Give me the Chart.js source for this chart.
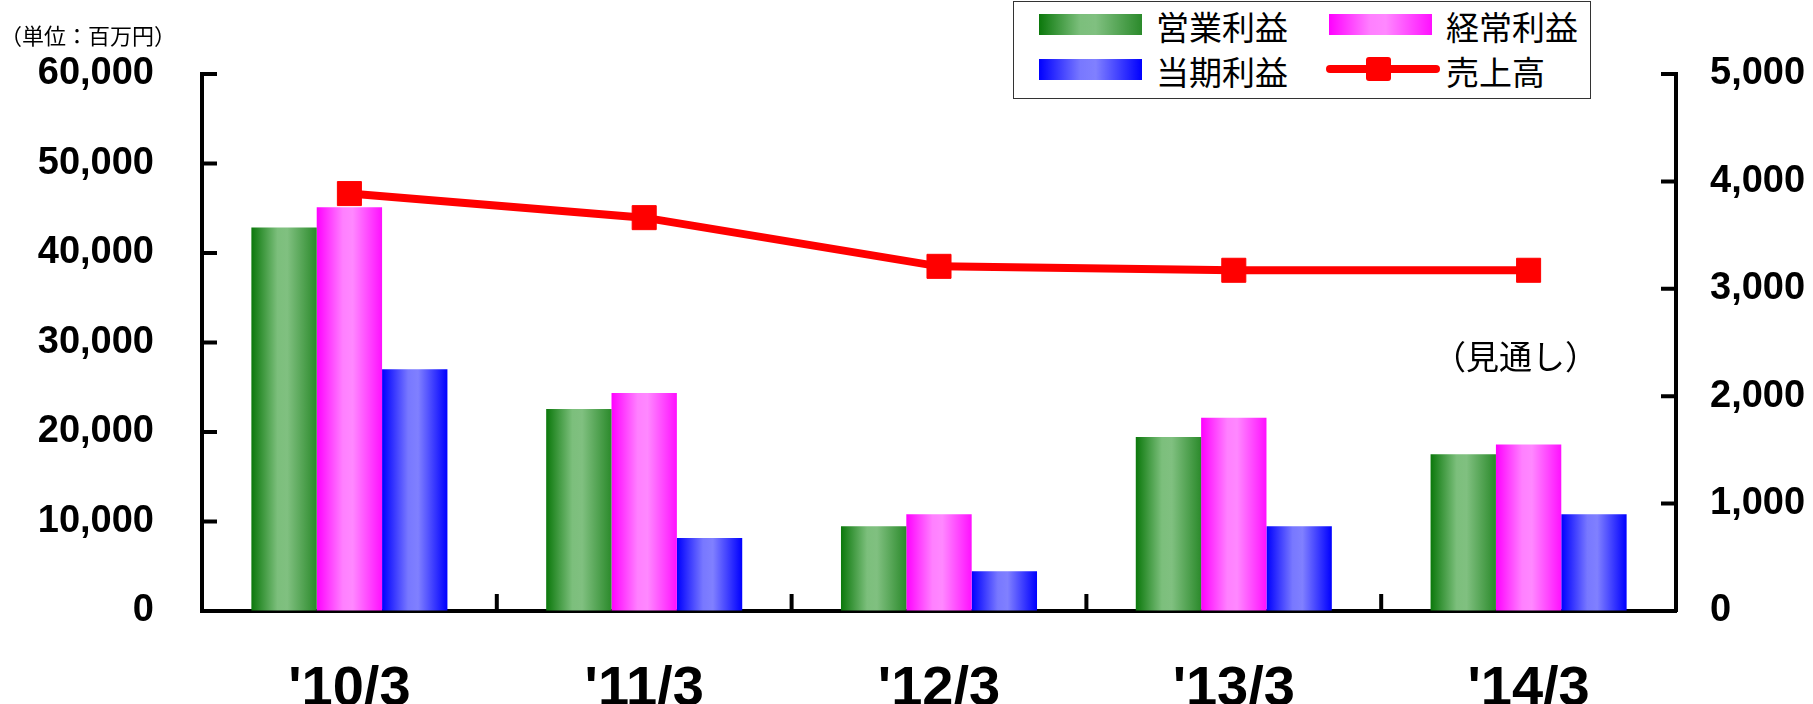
<!DOCTYPE html>
<html lang="ja">
<head>
<meta charset="utf-8">
<title>売上高・利益推移</title>
<script src="https://cdn.jsdelivr.net/npm/chart.js@4.4.1/dist/chart.umd.min.js"></script>
<style>
  html, body { margin: 0; padding: 0; background: #fff; overflow: hidden; }
  #wrap { position: relative; width: 1813px; height: 704px; }
  #chart { position: absolute; left: 0; top: 0; }
  .jp { position: absolute; font-family: "Noto Sans CJK JP", sans-serif; color: #000; line-height: 1; white-space: nowrap; }
  #unit { left: 0px; top: 23px; font-size: 22px; }
  #forecast { left: 1433px; top: 339px; font-size: 33px; }
  #legend { position: absolute; left: 1013px; top: 1px; width: 576px; height: 96px; border: 1px solid #333; background: #fff; }
  .sw { position: absolute; width: 103px; height: 21px; }
  .lbl { font-size: 33px; }
</style>
</head>
<body>
<div id="wrap">
  <canvas id="chart" width="1813" height="704"></canvas>
  <div id="unit" class="jp">（単位：百万円）</div>
  <div id="forecast" class="jp">（見通し）</div>
  <div id="legend"></div>
</div>
<script>
// data
const categories = ["'10/3", "'11/3", "'12/3", "'13/3", "'14/3"];
const operatingProfit = [3570, 1880, 790, 1620, 1460];   // 営業利益 (right axis)
const ordinaryProfit = [3760, 2030, 900, 1800, 1550];    // 経常利益 (right axis)
const netProfit = [2250, 680, 370, 790, 900];            // 当期利益 (right axis)
const sales = [46640, 43950, 38510, 38070, 38070];       // 売上高 (left axis)

const salesMax = 60000, salesStep = 10000;
const profitMax = 5000, profitStep = 1000;

const CAT_PCT = 0.665;
const TICK_FONT = { family: "'Liberation Sans', Arial, sans-serif", size: 38, weight: "bold" };

const palette = {
  green: ["#0b780b", "#7cbf7c", "#80c080", "#2b8a2b"],
  pink: ["#ff00ff", "#ff80ff", "#ff88ff", "#ff10ff"],
  blue: ["#0000ff", "#7878ff", "#8080ff", "#0000ff"],
};

function barGradient(ctx, cols) {
  const chart = ctx.chart;
  const x = chart.scales.x;
  if (!x || ctx.dataIndex === undefined || !chart.chartArea) return cols[0];
  const step = (chart.chartArea.right - chart.chartArea.left) / categories.length;
  const w = step * CAT_PCT / 3;
  const left = x.getPixelForValue(ctx.dataIndex) - 1.5 * w + ctx.datasetIndex * w;
  const g = chart.ctx.createLinearGradient(left, 0, left + w, 0);
  g.addColorStop(0, cols[0]);
  g.addColorStop(0.4, cols[1]);
  g.addColorStop(0.55, cols[2]);
  g.addColorStop(1, cols[3]);
  return g;
}

function css(cols) {
  return `linear-gradient(to right, ${cols[0]} 0%, ${cols[1]} 40%, ${cols[2]} 55%, ${cols[3]} 100%)`;
}

// legend (2 x 2), positions relative to the box
const legend = document.getElementById("legend");
legend.innerHTML = `
  <div class="sw" style="left:25px;top:12px;background:${css(palette.green)}"></div>
  <div class="jp lbl" style="left:142px;top:8px">営業利益</div>
  <div class="sw" style="left:315px;top:12px;background:${css(palette.pink)}"></div>
  <div class="jp lbl" style="left:432px;top:8px">経常利益</div>
  <div class="sw" style="left:25px;top:57px;background:${css(palette.blue)}"></div>
  <div class="jp lbl" style="left:142px;top:53px">当期利益</div>
  <div style="position:absolute;left:312px;top:63px;width:114px;height:8px;border-radius:4px;background:#f00"></div>
  <div style="position:absolute;left:352px;top:55px;width:25px;height:24px;border-radius:3px;background:#f00"></div>
  <div class="jp lbl" style="left:432px;top:53px">売上高</div>
`;

const insideTicks = {
  id: "insideTicks",
  afterDraw(chart) {
    const { ctx, scales: { x, yL, yR } } = chart;
    ctx.save();
    ctx.strokeStyle = "#000";
    ctx.lineWidth = 4;
    ctx.beginPath();
    yL.ticks.forEach(t => {
      const y = yL.getPixelForValue(t.value);
      ctx.moveTo(yL.right, y);
      ctx.lineTo(yL.right + 15, y);
    });
    yR.ticks.forEach(t => {
      const y = yR.getPixelForValue(t.value);
      ctx.moveTo(yR.left, y);
      ctx.lineTo(yR.left - 15, y);
    });
    for (let i = 1; i < categories.length; i++) {
      const px = (x.getPixelForValue(i - 1) + x.getPixelForValue(i)) / 2;
      ctx.moveTo(px, x.top);
      ctx.lineTo(px, x.top - 17);
    }
    ctx.stroke();
    ctx.restore();
  }
};

new Chart(document.getElementById("chart"), {
  type: "bar",
  data: {
    labels: categories,
    datasets: [
      { label: "営業利益", data: operatingProfit, yAxisID: "yR",
        backgroundColor: c => barGradient(c, palette.green) },
      { label: "経常利益", data: ordinaryProfit, yAxisID: "yR",
        backgroundColor: c => barGradient(c, palette.pink) },
      { label: "当期利益", data: netProfit, yAxisID: "yR",
        backgroundColor: c => barGradient(c, palette.blue) },
      { type: "line", label: "売上高", data: sales, yAxisID: "yL", order: -1,
        borderColor: "#ff0000", borderWidth: 8, backgroundColor: "#ff0000",
        pointStyle: "rect", pointRadius: 17, pointBorderWidth: 1, pointBorderColor: "#ff0000",
        tension: 0, fill: false },
    ],
  },
  options: {
    responsive: false,
    animation: false,
    events: [],
    categoryPercentage: CAT_PCT,
    barPercentage: 1,
    layout: { padding: { top: 74, left: 0, right: 0, bottom: 0 } },
    plugins: { legend: { display: false }, tooltip: { enabled: false } },
    scales: {
      x: {
        offset: true,
        grid: { drawOnChartArea: false, drawTicks: false },
        border: { display: true, color: "#000", width: 4 },
        ticks: { color: "#000", padding: 45, maxRotation: 0, autoSkip: false,
                 font: { family: TICK_FONT.family, size: 56, weight: "bold" } },
        afterFit: s => { s.height = 93; },
      },
      yL: {
        position: "left", min: 0, max: salesMax,
        grid: { drawOnChartArea: false, drawTicks: false },
        border: { display: true, color: "#000", width: 4 },
        ticks: { stepSize: salesStep, color: "#000", padding: 48, font: TICK_FONT,
                 callback: v => v.toLocaleString("en-US") },
        afterFit: s => { s.width = 202; },
      },
      yR: {
        position: "right", min: 0, max: profitMax,
        grid: { drawOnChartArea: false, drawTicks: false },
        border: { display: true, color: "#000", width: 4 },
        ticks: { stepSize: profitStep, color: "#000", padding: 34, font: TICK_FONT,
                 callback: v => v.toLocaleString("en-US") },
        afterFit: s => { s.width = 137; },
      },
    },
  },
  plugins: [insideTicks],
});
</script>
</body>
</html>
